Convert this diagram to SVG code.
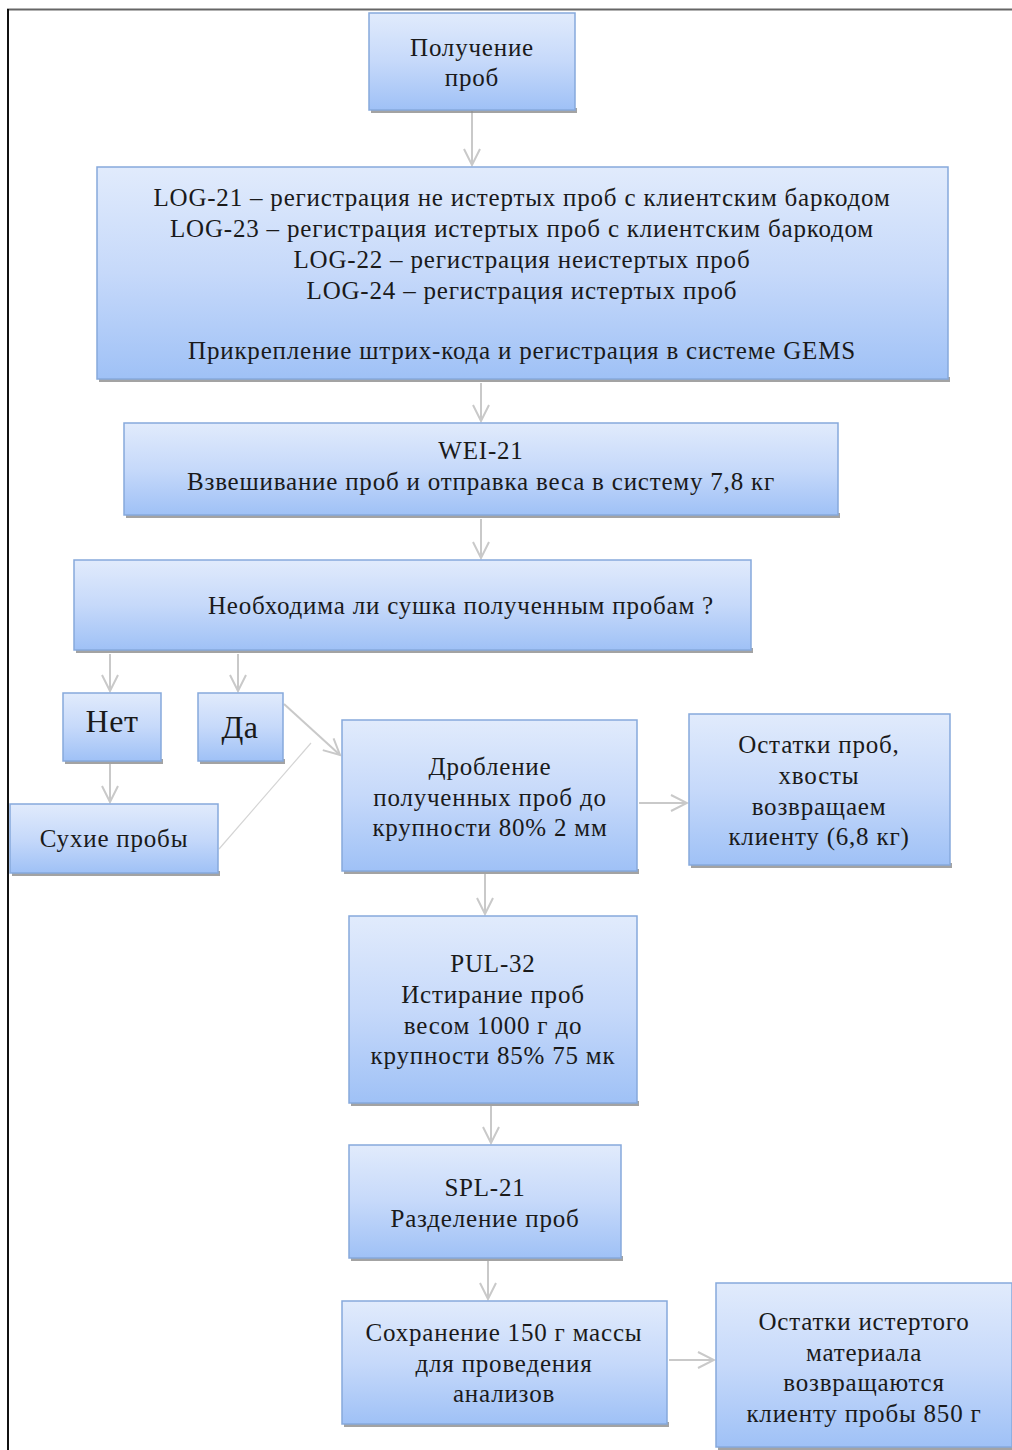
<svg xmlns="http://www.w3.org/2000/svg" width="1012" height="1450" viewBox="0 0 1012 1450">
<defs>
<linearGradient id="g" x1="0" y1="0" x2="0" y2="1">
<stop offset="0" stop-color="#e1ebfc"/>
<stop offset="0.5" stop-color="#c6d9fa"/>
<stop offset="1" stop-color="#9fc1f6"/>
</linearGradient>
<marker id="a" viewBox="0 0 20 20" refX="18" refY="10" markerWidth="20" markerHeight="20" markerUnits="userSpaceOnUse" orient="auto">
<path d="M2,2 L18,10 L2,18" fill="none" stroke="#c9c9c9" stroke-width="2"/>
</marker>
</defs>
<style>
.b{fill:url(#g);stroke:#86a9dc;stroke-width:1.5}
.s{fill:#8c8c8c;opacity:0.8}
.t{font-family:"Liberation Serif","Times New Roman",serif;font-size:25px;letter-spacing:0.8px;fill:#1a1a1a;text-anchor:middle}
.big{font-size:32px;letter-spacing:0.5px}
.c{stroke:#c9c9c9;stroke-width:2;fill:none}
</style>
<rect x="0" y="0" width="1012" height="1450" fill="#ffffff"/>
<line x1="7" y1="9.5" x2="1012" y2="9.5" stroke="#666" stroke-width="2"/>
<line x1="8" y1="9" x2="8" y2="1450" stroke="#111" stroke-width="2"/>

<g id="connectors">
<line class="c" x1="472" y1="111" x2="472" y2="165" marker-end="url(#a)"/>
<line class="c" x1="481" y1="383" x2="481" y2="421" marker-end="url(#a)"/>
<line class="c" x1="481" y1="519" x2="481" y2="558" marker-end="url(#a)"/>
<line class="c" x1="110" y1="654" x2="110" y2="691" marker-end="url(#a)"/>
<line class="c" x1="238" y1="654" x2="238" y2="691" marker-end="url(#a)"/>
<line class="c" x1="110" y1="764" x2="110" y2="802" marker-end="url(#a)"/>
<line class="c" x1="284" y1="704" x2="340" y2="755" marker-end="url(#a)"/>
<line x1="219" y1="849" x2="311" y2="743" stroke="#d4d4d4" stroke-width="1.2"/>
<line class="c" x1="639" y1="803" x2="687" y2="803" marker-end="url(#a)"/>
<line class="c" x1="485" y1="874" x2="485" y2="914" marker-end="url(#a)"/>
<line class="c" x1="491" y1="1106" x2="491" y2="1143" marker-end="url(#a)"/>
<line class="c" x1="488" y1="1261" x2="488" y2="1299" marker-end="url(#a)"/>
<line class="c" x1="669" y1="1360" x2="714" y2="1360" marker-end="url(#a)"/>
</g>

<g id="n1">
<rect class="s" x="371" y="108" width="206" height="5"/>
<rect class="b" x="369" y="13" width="206" height="97"/>
<text class="t" x="472" y="56">Получение</text>
<text class="t" x="472" y="86">проб</text>
</g>

<g id="n2">
<rect class="s" x="99" y="377" width="851" height="5"/>
<rect class="b" x="97" y="167" width="851" height="212"/>
<text class="t" x="522" y="206">LOG-21 – регистрация не истертых проб с клиентским баркодом</text>
<text class="t" x="522" y="237">LOG-23 – регистрация истертых проб с клиентским баркодом</text>
<text class="t" x="522" y="268">LOG-22 – регистрация неистертых проб</text>
<text class="t" x="522" y="299">LOG-24 – регистрация истертых проб</text>
<text class="t" x="522" y="359">Прикрепление штрих-кода и регистрация в системе GEMS</text>
</g>

<g id="n3">
<rect class="s" x="126" y="513" width="714" height="5"/>
<rect class="b" x="124" y="423" width="714" height="92"/>
<text class="t" x="481" y="459">WEI-21</text>
<text class="t" x="481" y="490">Взвешивание проб и отправка веса в систему 7,8 кг</text>
</g>

<g id="n4">
<rect class="s" x="76" y="648" width="677" height="5"/>
<rect class="b" x="74" y="560" width="677" height="90"/>
<text class="t" x="461" y="614">Необходима ли сушка полученным пробам ?</text>
</g>

<g id="n5">
<rect class="s" x="65" y="759" width="98" height="5"/>
<rect class="b" x="63" y="693" width="98" height="68"/>
<text class="t big" x="112" y="732">Нет</text>
</g>

<g id="n6">
<rect class="s" x="200" y="759" width="85" height="5"/>
<rect class="b" x="198" y="693" width="85" height="68"/>
<text class="t big" x="240" y="738">Да</text>
</g>

<g id="n7">
<rect class="s" x="12" y="871" width="208" height="5"/>
<rect class="b" x="10" y="804" width="208" height="69"/>
<text class="t" x="114" y="847">Сухие пробы</text>
</g>

<g id="n8">
<rect class="s" x="344" y="869" width="295" height="5"/>
<rect class="b" x="342" y="720" width="295" height="151"/>
<text class="t" x="490" y="775">Дробление</text>
<text class="t" x="490" y="806">полученных проб до</text>
<text class="t" x="490" y="836">крупности 80% 2 мм</text>
</g>

<g id="n9">
<rect class="s" x="691" y="863" width="261" height="5"/>
<rect class="b" x="689" y="714" width="261" height="151"/>
<text class="t" x="819" y="753">Остатки проб,</text>
<text class="t" x="819" y="784">хвосты</text>
<text class="t" x="819" y="815">возвращаем</text>
<text class="t" x="819" y="845">клиенту (6,8 кг)</text>
</g>

<g id="n10">
<rect class="s" x="351" y="1101" width="288" height="5"/>
<rect class="b" x="349" y="916" width="288" height="187"/>
<text class="t" x="493" y="972">PUL-32</text>
<text class="t" x="493" y="1003">Истирание проб</text>
<text class="t" x="493" y="1034">весом 1000 г до</text>
<text class="t" x="493" y="1064">крупности 85% 75 мк</text>
</g>

<g id="n11">
<rect class="s" x="351" y="1256" width="272" height="5"/>
<rect class="b" x="349" y="1145" width="272" height="113"/>
<text class="t" x="485" y="1196">SPL-21</text>
<text class="t" x="485" y="1227">Разделение проб</text>
</g>

<g id="n12">
<rect class="s" x="344" y="1422" width="325" height="5"/>
<rect class="b" x="342" y="1301" width="325" height="123"/>
<text class="t" x="504" y="1341">Сохранение  150 г массы</text>
<text class="t" x="504" y="1372">для проведения</text>
<text class="t" x="504" y="1402">анализов</text>
</g>

<g id="n13">
<rect class="s" x="718" y="1445" width="294" height="5"/>
<rect class="b" x="716" y="1283" width="296" height="164"/>
<text class="t" x="864" y="1330">Остатки истертого</text>
<text class="t" x="864" y="1361">материала</text>
<text class="t" x="864" y="1391">возвращаются</text>
<text class="t" x="864" y="1422">клиенту пробы 850 г</text>
</g>
</svg>
